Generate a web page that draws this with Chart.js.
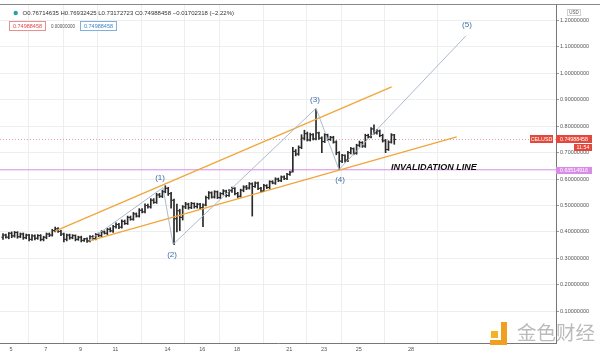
<!DOCTYPE html>
<html><head><meta charset="utf-8">
<script src="https://cdn.jsdelivr.net/npm/chart.js@4"></script>
<style>
html,body{margin:0;padding:0;background:#fff;}
#wrap{position:relative;width:600px;height:357px;overflow:hidden;background:#fff;}
#c{position:absolute;left:0;top:0;}
#wm{position:absolute;left:517px;top:320px;font-family:"Noto Sans CJK SC";font-size:19.5px;color:rgba(120,120,120,0.5);line-height:24px;}
.lg{position:absolute;background:#f5b324;}
</style></head><body>
<div id="wrap">
<canvas id="c" width="600" height="357"></canvas>
<div class="lg" style="left:491px;top:331px;width:7px;height:7px;"></div>
<div class="lg" style="left:501px;top:322px;width:6px;height:22px;background:#f0a020;"></div>
<div class="lg" style="left:490px;top:340px;width:17px;height:5px;background:#f0a020;"></div>
<div id="wm">金色财经</div>
</div>
<script>
// ---- data (4h OHLC bars, CELUSD) ----
const startDay = 4.54;
const barsPerDay = 6;
const opens = [.380,.388,.380,.395,.385,.398,.382,.392,.378,.388,.372,.385,.376,.386,.372,.380,.392,.388,.405,.412,
.402,.392,.372,.388,.378,.386,.372,.380,.368,.374,.366,.382,.375,.390,.386,.400,.395,.410,.404,.420,
.428,.418,.440,.432,.455,.448,.468,.460,.482,.476,.500,.495,.520,.512,.540,.535,.552,.565,.545,.520,
.450,.480,.455,.495,.505,.492,.508,.496,.505,.492,.502,.530,.548,.532,.552,.530,.545,.555,.538,.556,
.565,.545,.535,.558,.570,.566,.582,.572,.585,.565,.555,.575,.568,.590,.585,.600,.594,.608,.602,.618,
.630,.705,.695,.720,.755,.772,.748,.768,.752,.775,.755,.742,.768,.750,.758,.740,.700,.668,.690,.672,
.700,.715,.698,.728,.738,.725,.765,.760,.790,.775,.782,.765,.745,.712,.740,.76714635];
const highs = [.394,.392,.398,.400,.402,.401,.396,.396,.392,.391,.390,.389,.390,.390,.384,.396,.396,.410,.418,.416,
.406,.396,.392,.392,.390,.389,.384,.384,.376,.378,.386,.386,.394,.396,.405,.404,.414,.416,.425,.434,
.433,.446,.445,.460,.460,.474,.472,.488,.488,.506,.505,.526,.526,.546,.546,.558,.575,.569,.550,.524,
.505,.486,.500,.512,.509,.512,.510,.509,.508,.506,.536,.553,.552,.556,.555,.549,.560,.558,.560,.570,
.568,.550,.562,.575,.576,.587,.586,.590,.589,.569,.580,.579,.594,.594,.605,.604,.612,.612,.622,.630,
.720,.712,.726,.768,.785,.778,.774,.772,.865,.778,.760,.772,.770,.762,.762,.745,.704,.694,.692,.705,
.720,.718,.732,.744,.742,.770,.770,.795,.805,.788,.786,.770,.750,.745,.772,.76932425];
const lows = [.372,.376,.374,.378,.380,.376,.378,.372,.374,.366,.368,.370,.372,.366,.366,.374,.382,.384,.400,.398,
.386,.362,.366,.372,.374,.366,.368,.362,.364,.360,.362,.370,.370,.382,.380,.392,.390,.400,.398,.414,
.412,.414,.428,.428,.444,.444,.456,.456,.472,.472,.490,.490,.508,.508,.530,.530,.548,.538,.490,.352,
.400,.405,.445,.488,.486,.488,.490,.490,.488,.420,.498,.524,.528,.528,.526,.526,.540,.532,.534,.550,
.540,.530,.532,.552,.560,.562,.460,.568,.560,.550,.552,.564,.564,.582,.580,.590,.590,.598,.598,.614,
.626,.688,.690,.715,.748,.744,.744,.748,.748,.750,.700,.738,.746,.746,.736,.692,.636,.662,.664,.666,
.695,.692,.694,.722,.720,.720,.755,.756,.770,.770,.760,.740,.700,.708,.736,.73172723];
const closes = [.388,.380,.395,.385,.398,.382,.392,.378,.388,.372,.385,.376,.386,.372,.380,.392,.388,.405,.412,.402,
.392,.372,.388,.378,.386,.372,.380,.368,.374,.366,.382,.375,.390,.386,.400,.395,.410,.404,.420,.428,
.418,.440,.432,.455,.448,.468,.460,.482,.476,.500,.495,.520,.512,.540,.535,.552,.565,.545,.520,.450,
.480,.455,.495,.505,.492,.508,.496,.505,.492,.502,.530,.548,.532,.552,.530,.545,.555,.538,.556,.565,
.545,.535,.558,.570,.566,.582,.572,.585,.565,.555,.575,.568,.590,.585,.600,.594,.608,.602,.618,.625,
.705,.695,.720,.755,.772,.748,.768,.752,.775,.755,.742,.768,.750,.758,.740,.700,.668,.690,.672,.700,
.715,.698,.728,.738,.725,.765,.760,.790,.775,.782,.765,.745,.712,.740,.767,.74988458];

const xTickDays = [5,7,9,11,14,16,18,21,23,25,28];
const yTickValues = [0.1,0.2,0.3,0.4,0.5,0.6,0.7,0.8,0.9,1.0,1.1,1.2];

const upperChannel = [{x:7.53,y:0.403},{x:26.89,y:0.949}];
const lowerChannel = [{x:9.45,y:0.365},{x:30.63,y:0.760}];
const wavePath = [{x:9.43,y:0.365},{x:13.74,y:0.568},{x:14.32,y:0.353},{x:22.54,y:0.868},{x:23.86,y:0.636},{x:31.16,y:1.142}];
const waveLabels = [
  {x:13.57,y:0.606,text:'(1)'},{x:14.26,y:0.315,text:'(2)'},{x:22.48,y:0.900,text:'(3)'},
  {x:23.92,y:0.599,text:'(4)'},{x:31.22,y:1.183,text:'(5)'}];
const invalidationLevel = 0.63514916;
const invalidationText = {x:29.32, y:0.642, text:'INVALIDATION LINE'};
const lastPrice = 0.74988458;
const symbol = 'CELUSD';
const countdown = '11:54';
const headerText = 'O0.76714635 H0.76932425 L0.73172723 C0.74988458 \u22120.01702318 (\u22122.22%)';

const xMin = 4.3675, xMax = 36.34, yMin = -0.0204, yMax = 1.2589;

const barTimes = opens.map((_, i) => startDay + i / barsPerDay);

const ohlcTicks = {
  id:'ohlcTicks',
  afterDatasetsDraw(chart){
    const {ctx, scales:{x, y}} = chart;
    ctx.save();
    ctx.fillStyle = '#2a2a2a';
    barTimes.forEach((t, i) => {
      const px = x.getPixelForValue(t);
      ctx.fillRect(px - 1.7, y.getPixelForValue(opens[i]) - 0.5, 1.5, 1);
      ctx.fillRect(px + 0.2, y.getPixelForValue(closes[i]) - 0.5, 1.5, 1);
    });
    ctx.restore();
  }
};

function box(ctx, x0, y0, w, h, fill, stroke){
  if (fill){ ctx.fillStyle = fill; ctx.fillRect(x0, y0, w, h); }
  if (stroke){ ctx.strokeStyle = stroke; ctx.lineWidth = 1; ctx.strokeRect(x0 + 0.5, y0 + 0.5, w - 1, h - 1); }
}

const overlay = {
  id:'overlay',
  afterDraw(chart){
    const {ctx, scales:{x, y}} = chart;
    ctx.save();
    ctx.font = '8px "Liberation Sans"';
    ctx.fillStyle = '#3d6da8';
    ctx.textAlign = 'center'; ctx.textBaseline = 'middle';
    waveLabels.forEach(l => ctx.fillText(l.text, x.getPixelForValue(l.x), y.getPixelForValue(l.y)));
    ctx.font = 'italic bold 9px "Liberation Sans"';
    ctx.fillStyle = '#111';
    ctx.fillText(invalidationText.text, x.getPixelForValue(invalidationText.x), y.getPixelForValue(invalidationText.y));
    ctx.fillStyle = '#888';
    ctx.fillRect(0, 4, 600, 1);
    ctx.fillStyle = '#26a69a';
    ctx.beginPath(); ctx.arc(15.7, 13, 2.2, 0, Math.PI * 2); ctx.fill();
    ctx.textAlign = 'left';
    ctx.font = '6px "Liberation Sans"';
    ctx.fillStyle = '#333';
    ctx.fillText(headerText, 22.5, 13.5);
    box(ctx, 9, 21, 37, 10, '#fff', '#e88f8f');
    box(ctx, 80, 21, 37, 10, '#fff', '#7fb0de');
    ctx.textAlign = 'center';
    ctx.font = '5.5px "Liberation Sans"';
    ctx.fillStyle = '#e04848';
    ctx.fillText(lastPrice.toFixed(8), 27.5, 26.3);
    ctx.fillStyle = '#3f86c8';
    ctx.fillText(lastPrice.toFixed(8), 98.5, 26.3);
    ctx.font = '4.5px "Liberation Sans"';
    ctx.fillStyle = '#555';
    ctx.fillText((0).toFixed(8), 63, 26.3);
    box(ctx, 567, 9, 14, 7, '#fff', '#d0d0d0');
    ctx.fillStyle = '#555';
    ctx.fillText('USD', 574, 12.7);
    const py = Math.round(y.getPixelForValue(lastPrice));
    ctx.fillStyle = '#e2483b';
    ctx.fillRect(530, py - 4, 23, 8);
    ctx.fillRect(556, py - 4, 36, 8);
    ctx.fillRect(574, py + 5, 18, 7);
    ctx.fillStyle = '#fff';
    ctx.font = '5.3px "Liberation Sans"';
    ctx.fillText(symbol, 541.5, py + 0.3);
    ctx.fillText(lastPrice.toFixed(8), 574, py + 0.3);
    ctx.fillText(countdown, 583, py + 8.8);
    const iy = Math.round(y.getPixelForValue(invalidationLevel));
    ctx.fillStyle = '#d98be8';
    ctx.fillRect(556, iy - 3, 36, 7);
    ctx.fillStyle = '#fff';
    ctx.fillText(invalidationLevel.toFixed(8), 574, iy + 0.6);
    ctx.restore();
  }
};

new Chart(document.getElementById('c'), {
  type:'bar',
  data:{
    datasets:[
      {type:'line', data:wavePath, borderColor:'#a9bbcf', borderWidth:1, pointRadius:0, order:1},
      {type:'line', data:upperChannel, borderColor:'#f2a43a', borderWidth:1.2, pointRadius:0, order:2},
      {type:'line', data:lowerChannel, borderColor:'#f2a43a', borderWidth:1.2, pointRadius:0, order:2},
      {type:'bar', data:barTimes.map((t, i) => ({x:t, y:[lows[i], highs[i]]})), backgroundColor:'#2a2a2a', barThickness:1, grouped:false, order:3},
      {type:'line', data:[{x:xMin,y:invalidationLevel},{x:xMax,y:invalidationLevel}], borderColor:'#d98be8', borderWidth:1, pointRadius:0, order:4},
      {type:'line', data:[{x:xMin,y:lastPrice},{x:xMax,y:lastPrice}], borderColor:'rgba(210,120,120,0.7)', borderWidth:1, borderDash:[1,2], pointRadius:0, order:5}
    ]
  },
  options:{
    responsive:false, animation:false, devicePixelRatio:1,
    layout:{padding:{top:5,left:0,right:0,bottom:0}},
    plugins:{legend:{display:false}, tooltip:{enabled:false}},
    scales:{
      x:{type:'linear', min:xMin, max:xMax, offset:false,
        afterBuildTicks:s => { s.ticks = xTickDays.map(v => ({value:v})); },
        afterFit:s => { s.height = 14; },
        grid:{color:'#eeeeee', drawTicks:false},
        border:{color:'#777'},
        ticks:{padding:3, color:'#555', autoSkip:false, maxRotation:0, font:{size:5.5, family:'Liberation Sans'}, callback:v => String(v)}},
      y:{position:'right', min:yMin, max:yMax,
        afterBuildTicks:s => { s.ticks = yTickValues.map(v => ({value:v})); },
        afterFit:s => { s.width = 44; },
        grid:{color:'#eeeeee', tickLength:3, tickColor:'#999'},
        border:{color:'#777'},
        ticks:{padding:1, color:'#555', font:{size:5.5, family:'Liberation Sans'}, callback:v => Number(v).toFixed(8)}}
    }
  },
  plugins:[ohlcTicks, overlay]
});
</script>
</body></html>
